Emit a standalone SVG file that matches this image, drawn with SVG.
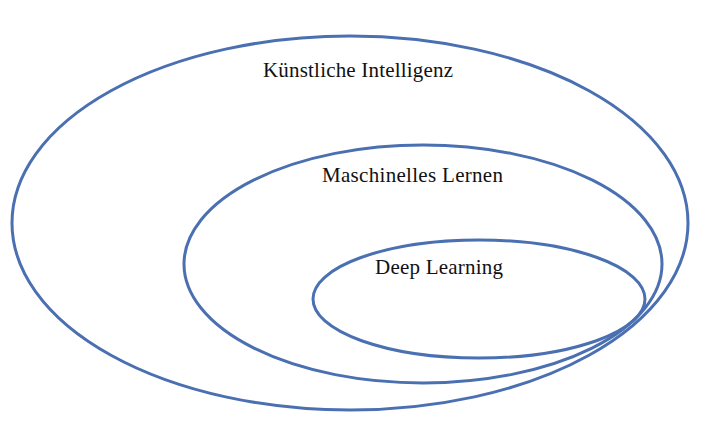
<svg xmlns="http://www.w3.org/2000/svg" width="724" height="423" viewBox="0 0 724 423">
<style>
.set{fill:none;stroke:#4a70b2;stroke-width:3}
.lbl{font-family:"Liberation Serif","Times New Roman",serif;font-size:21px;fill:#111;text-anchor:middle}
</style>
<rect width="724" height="423" fill="#fff"/>
<g id="ki">
<ellipse class="set" cx="350" cy="223" rx="338" ry="187"/>
<text class="lbl" x="358" y="77" textLength="190" lengthAdjust="spacing">Künstliche Intelligenz</text>
</g>
<g id="ml">
<ellipse class="set" cx="423" cy="264" rx="239" ry="119"/>
<text class="lbl" x="412.5" y="182" textLength="181" lengthAdjust="spacing">Maschinelles Lernen</text>
</g>
<g id="dl">
<ellipse class="set" cx="479" cy="299" rx="166" ry="59"/>
<text class="lbl" x="439" y="274" textLength="128" lengthAdjust="spacing">Deep Learning</text>
</g>
<g id="connectors"/>
</svg>
